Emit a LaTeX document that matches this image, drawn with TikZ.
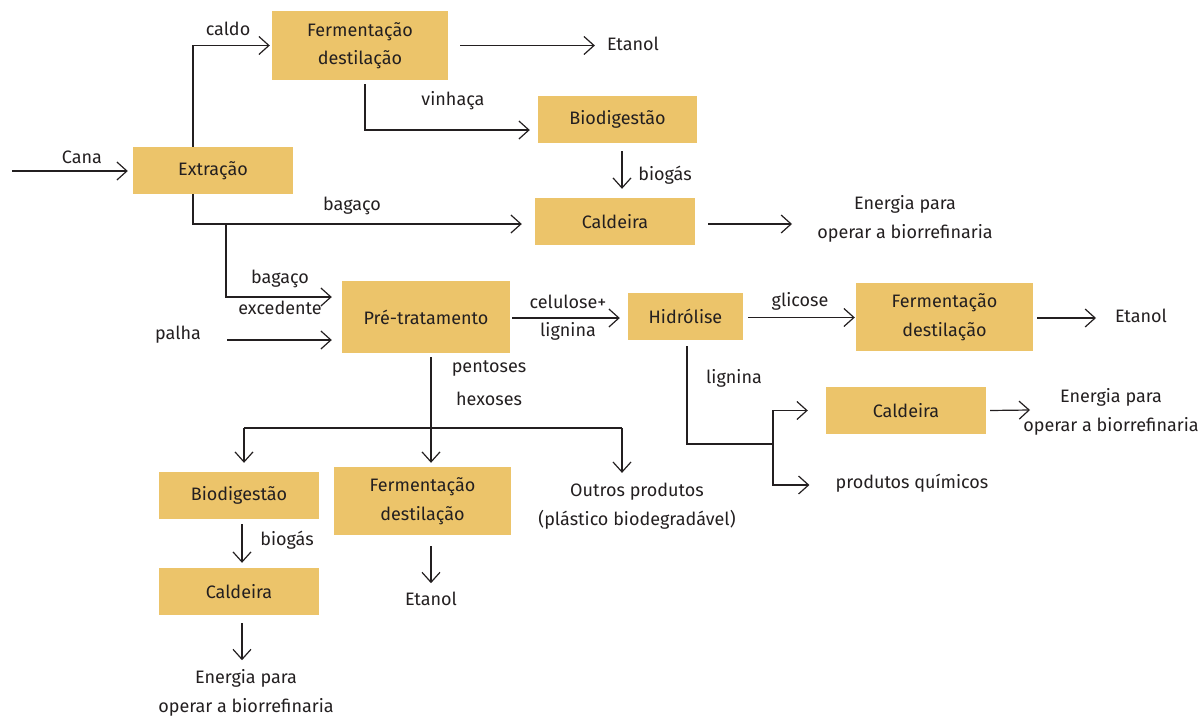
\documentclass[tikz,border=0pt]{standalone}
\usepackage{fontspec}
\setmainfont{Fira Sans}
\usetikzlibrary{arrows.meta}
\definecolor{boxc}{RGB}{236,196,106}
\definecolor{txt}{RGB}{35,31,32}
\begin{document}
\begin{tikzpicture}[x=1pt,y=-1pt,
  every node/.style={font=\fontsize{18}{28.5}\selectfont, text=txt},
  box/.style={fill=boxc, inner sep=0pt, align=center},
  lbl/.style={inner sep=0pt, align=center},
  ln/.style={line width=1.2pt, draw=txt},
  arr/.style={ln, -{Straight Barb[length=10pt,width=18pt,line width=1.2pt]}}]
\useasboundingbox (0,0) rectangle (1200,717);
% boxes
\node[box, minimum width=176pt, minimum height=69pt] (f1) at (360,45.5) {Fermentação\\destilação};
\node[box, minimum width=160pt, minimum height=47pt] (extr) at (213,170.5) {Extração};
\node[box, minimum width=159pt, minimum height=47pt] (bio1) at (617.5,119.5) {Biodigestão};
\node[box, minimum width=160pt, minimum height=47pt] (cal1) at (615,221.5) {Caldeira};
\node[box, minimum width=168pt, minimum height=72pt] (pre) at (426,317) {Pré-tratamento};
\node[box, minimum width=115pt, minimum height=47pt] (hid) at (685.5,316.5) {Hidrólise};
\node[box, minimum width=177pt, minimum height=68pt] (f2) at (944.5,317) {Fermentação\\destilação};
\node[box, minimum width=160pt, minimum height=47pt] (cal2) at (906,410.5) {Caldeira};
\node[box, minimum width=160pt, minimum height=47pt] (bio2) at (239,495.5) {Biodigestão};
\node[box, minimum width=177pt, minimum height=68pt] (f3) at (422.5,501) {Fermentação\\destilação};
\node[box, minimum width=160pt, minimum height=47pt] (cal3) at (239,591.5) {Caldeira};
% labels
\node[lbl] (cana) at (82,157) {Cana};
\node[lbl] (caldo) at (228,29) {caldo};
\node[lbl] (et1) at (633,44) {Etanol};
\node[lbl] (vinh) at (453,101) {vinhaça};
\node[lbl] (bg1) at (665,175) {biogás};
\node[lbl] (bag) at (352,206) {bagaço};
\node[lbl] (en1) at (905,219) {Energia para\\operar a biorrefinaria};
\node[lbl] (bagx1) at (280,279) {bagaço};
\node[lbl] (bagx2) at (280,308) {excedente};
\node[lbl] (palha) at (178,335) {palha};
\node[lbl] (cel) at (568,302) {celulose+};
\node[lbl] (lig1) at (568,331) {lignina};
\node[lbl] (glic) at (800,301) {glicose};
\node[lbl] (et2) at (1141,316) {Etanol};
\node[lbl] (lig2) at (734,378) {lignina};
\node[lbl] (en2) at (1111,412) {Energia para\\operar a biorrefinaria};
\node[lbl] (quim) at (912,483) {produtos químicos};
\node[lbl] (pent) at (489,369) {pentoses};
\node[lbl] (hex) at (489,399) {hexoses};
\node[lbl] (outros) at (637,506) {Outros produtos\\(plástico biodegradável)};
\node[lbl] (bg2) at (287,540) {biogás};
\node[lbl] (et3) at (431,599) {Etanol};
\node[lbl] (en3) at (246,693) {Energia para\\operar a biorrefinaria};
% coordinates
\coordinate (canain) at (12,171);
\coordinate (e1in) at (792,224);
\coordinate (bj) at (226,224);
\coordinate (pin) at (227,340);
\coordinate (e2in) at (1096,318);
\coordinate (lj) at (773,444);
\coordinate (e3in) at (1030,410);
\coordinate (bl) at (244,428);
\coordinate (br) at (622,428);
% connectors
\draw[arr] (canain) -- ([xshift=-5]extr.west |- canain);
\draw[arr] ([xshift=-20]extr.north) |- ([xshift=-2]f1.west);
\draw[arr] ([xshift=12]f1.east) -- ([xshift=-12]et1.west |- f1.east);
\draw[arr] ([xshift=5,yshift=-4]f1.south) |- ([xshift=-8,yshift=-10.5]bio1.west);
\draw[arr] ([xshift=4.5,yshift=-8]bio1.south) -- ([xshift=7,yshift=9]cal1.north);
\draw[arr] ([xshift=-20]extr.south) |- ([xshift=-13,yshift=-2.5]cal1.west);
\draw[arr] ([xshift=13,yshift=-2.5]cal1.east) -- (e1in);
\draw[arr] (bj) |- ([xshift=-10,yshift=20]pre.west);
\draw[arr] (pin) -- ([xshift=-10,yshift=-23]pre.west);
\draw[arr] ([xshift=2,yshift=-1]pre.east) -- ([xshift=-8,yshift=-1]pre.east -| hid.west);
\draw[arr] ([xshift=5,yshift=-1]hid.east) -- ([xshift=-1,yshift=-1]hid.east -| f2.west);
\draw[arr] ([xshift=4,yshift=-1]f2.east) -- (e2in);
\draw[ln] ([xshift=1.5,yshift=-6]hid.south) |- (lj);
\draw[arr] (lj) |- ([xshift=-18]cal2.west);
\draw[arr] (lj) |- ([xshift=-26,yshift=-2]quim.west);
\draw[arr] ([xshift=4]cal2.east) -- (e3in);
\draw[arr] ([xshift=5,yshift=-4]pre.south) -- ([xshift=8.5,yshift=4]f3.north);
\draw[ln] (bl) -- (br);
\draw[arr] (bl) -- ([xshift=5,yshift=9]bio2.north);
\draw[arr] (br) -- ([yshift=10]br |- outros.north);
\draw[arr] ([xshift=3,yshift=-5]bio2.south) -- ([xshift=3,yshift=5]cal3.north);
\draw[arr] ([xshift=8.5,yshift=-11]f3.south) -- ([xshift=8.5,yshift=-48]f3.south);
\draw[arr] ([xshift=3,yshift=-8]cal3.south) -- ([xshift=3,yshift=-45]cal3.south);
\end{tikzpicture}
\end{document}
